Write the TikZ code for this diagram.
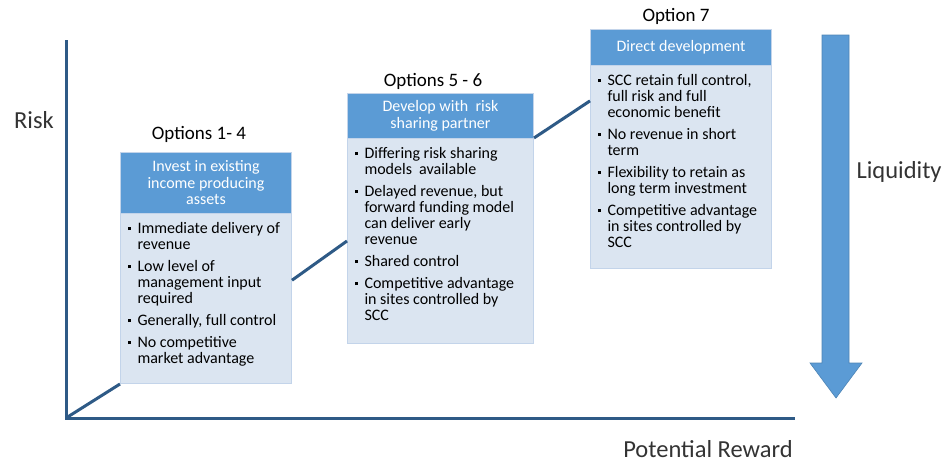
\documentclass[tikz,border=0pt]{standalone}
\usepackage{fontspec}
\setmainfont{Carlito}
\usepackage{tikz}
\definecolor{entete}{HTML}{5B9BD5}
\definecolor{fond}{HTML}{DBE5F1}
\definecolor{bord}{HTML}{C3D4EA}
\definecolor{axe}{HTML}{2E5A86}
\tikzset {boite/.style 2 args={minimum width=#1,minimum height=#2}}
\tikzset {entete/.style={draw=bord,line width=1pt,fill=entete,text=white,
    align=center,inner sep=0pt,font=\fontsize{16}{16.5}\selectfont}}
\tikzset {corps/.style={draw=bord,line width=1pt,fill=fond,text=black,
    inner xsep=6pt,inner ysep=9pt,font=\fontsize{16}{16}\selectfont}}
\tikzset {titre/.style={text=black,font=\fontsize{19}{21}\selectfont}}
\tikzset {etiquette/.style={text=black!80,font=\fontsize{24.5}{28}\selectfont}}
\tikzset {trait/.style={draw=axe,line width=3pt}}
\newcommand{\puce}[1]{\par\hangindent=11pt\hangafter=1\noindent
  \hbox to 11pt{\hskip1pt\rule[3.5pt]{3pt}{3pt}\hfil}#1\par}
\newcommand{\contenu}[3]{\parbox[c][#2][t]{#1}{\raggedright
  \setlength{\parskip}{6pt}#3}}

\begin{document}
\begin{tikzpicture}[x=1pt,y=-1pt]
  \useasboundingbox (0,0) rectangle (944,463);
  % les axes
  \coordinate (haut) at (66,40);
  \coordinate (origine) at (66,418);
  \coordinate (droite) at (795,418);
  \draw[trait] (haut) -- (origine) -- (droite);
  \node[etiquette] (risque) at (34,120) {Risk};
  \node[etiquette] (gain) at (708,449) {Potential Reward};
  % option 1
  \node[titre] (t1) at (199,134) {Options 1- 4};
  \node[entete,boite={171pt}{61pt},anchor=north west] (h1) at (120,152)
    {Invest in existing\\income producing\\assets};
  \node[corps,anchor=north west] (b1) at (120,213) {\contenu{159pt}{152pt}{%
    \puce{Immediate delivery of\newline revenue}
    \puce{Low level of\newline management input\newline required}
    \puce{Generally, full control}
    \puce{No competitive\newline market advantage}}};
  % option 2
  \node[titre] (t2) at (433,81) {Options 5 - 6};
  \node[entete,boite={186pt}{45pt},anchor=north west] (h2) at (347,93)
    {Develop with \ risk\\sharing partner};
  \node[corps,anchor=north west] (b2) at (347,138) {\contenu{174pt}{187pt}{%
    \puce{Differing risk sharing\newline models \ available}
    \puce{Delayed revenue, but\newline forward funding model\newline can deliver early\newline revenue}
    \puce{Shared control}
    \puce{Competitive advantage\newline in sites controlled by\newline SCC}}};
  % option 3
  \node[titre] (t3) at (676,16) {Option 7};
  \node[entete,boite={181pt}{36pt},anchor=north west] (h3) at (590,29)
    {Direct development};
  \node[corps,anchor=north west] (b3) at (590,65) {\contenu{169pt}{185pt}{%
    \puce{SCC retain full control,\newline full risk and full\newline economic benefit}
    \puce{No revenue in short\newline term}
    \puce{Flexibility to retain as\newline long term investment}
    \puce{Competitive advantage\newline in sites controlled by\newline SCC}}};
  % les liens
  \draw[trait] (origine) -- (b1.south west);
  \draw[trait] (b1.12) -- (b2.west);
  \draw[trait] (b2.north east) -- (b3.144);
  % liquidite
  \fill[entete,draw=entete!85!black,line width=0.6pt]
    (822,35) -- (849,35) -- (849,363) -- (862,363) -- (836,398)
    -- (810,363) -- (822,363) -- cycle;
  \node[etiquette,anchor=west] (liquide) at (853,172) {Liquidity};
\end{tikzpicture}
\end{document}
